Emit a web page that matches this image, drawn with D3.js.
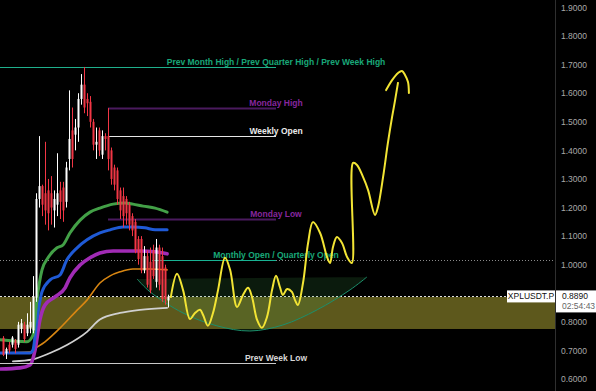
<!DOCTYPE html>
<html><head><meta charset="utf-8">
<script src="https://cdn.jsdelivr.net/npm/d3@7"></script>
<style>html,body{margin:0;padding:0;background:#000;overflow:hidden}svg{display:block}</style>
</head><body>
<svg id="c" width="596" height="391"></svg>
<script>
// ---- data ----
const candleOpen  = [0.744,0.69,0.72,0.72,0.735,0.72,0.775,0.79,0.76,0.78,0.77,0.885,1.23,1.275,1.25,1.26,1.25,1.19,1.21,1.26,1.27,1.22,1.37,1.47,1.455,1.48,1.58,1.63,1.58,1.57,1.50,1.42,1.47,1.385,1.45,1.45,1.40,1.34,1.33,1.26,1.24,1.23,1.21,1.17,1.15,1.09,1.09,0.98,1.03,1.01,1.05,0.94,1.06,1.03,0.99,0.875];
const candleHigh  = [0.75,0.71,0.73,0.75,0.74,0.80,0.81,0.80,0.83,0.87,0.96,1.25,1.45,1.28,1.43,1.30,1.31,1.26,1.39,1.29,1.29,1.36,1.61,1.55,1.51,1.60,1.667,1.692,1.60,1.59,1.51,1.48,1.48,1.47,1.46,1.548,1.41,1.35,1.34,1.27,1.27,1.24,1.22,1.18,1.16,1.10,1.10,1.065,1.05,1.06,1.07,1.09,1.07,1.06,1.00,0.895];
const candleLow   = [0.68,0.67,0.69,0.71,0.69,0.71,0.76,0.73,0.75,0.76,0.76,0.87,1.20,1.17,1.14,1.12,1.14,1.13,1.17,1.16,1.15,1.20,1.33,1.34,1.40,1.43,1.56,1.53,1.52,1.48,1.40,1.37,1.38,1.37,1.40,1.33,1.28,1.26,1.21,1.16,1.13,1.14,1.12,1.10,1.04,1.00,0.97,0.97,0.92,0.90,0.95,0.92,0.91,0.87,0.86,0.85];
const candleClose = [0.684,0.705,0.70,0.745,0.705,0.79,0.795,0.74,0.79,0.80,0.89,1.23,1.275,1.21,1.19,1.18,1.20,1.23,1.25,1.22,1.19,1.34,1.44,1.37,1.48,1.58,1.63,1.55,1.565,1.50,1.42,1.43,1.40,1.45,1.44,1.37,1.30,1.28,1.23,1.19,1.17,1.18,1.14,1.12,1.05,1.02,0.98,1.03,0.93,0.91,0.96,1.06,0.93,0.88,0.88,0.889];

// moving averages: [bar, value]
const maGreenBar  = [-1,8,10,11.3,13,15,18,20,22.3,25.7,29,32.3,36.7,40.7,43.3,46.7,50.7,54.7];
const maGreenVal  = [0.737,0.730,0.754,0.877,0.982,1.024,1.059,1.069,1.111,1.156,1.184,1.198,1.212,1.216,1.212,1.205,1.198,1.184];
const maBlueBar   = [-1,9,10,11.3,13,15.7,19,21.3,24.7,28,32.3,35.7,40,43.3,47.3,50.7,54.7];
const maBlueVal   = [0.691,0.691,0.702,0.807,0.905,0.947,0.964,1.017,1.059,1.087,1.111,1.122,1.132,1.132,1.129,1.122,1.122];
const maPurpleBar = [-1,5.7,9,10.7,12.3,14,17.3,20.7,22.3,25.7,29,32.3,36.7,40.7,45.7,50.7,54.7];
const maPurpleVal = [0.635,0.639,0.649,0.702,0.807,0.859,0.887,0.919,0.954,0.999,1.024,1.041,1.048,1.048,1.048,1.045,1.038];
const maOrangeBar = [-1,9,10,14,19,24.7,28,32.3,35.7,39,43.3,49,54.7];
const maOrangeVal = [0.691,0.694,0.702,0.73,0.778,0.841,0.876,0.936,0.961,0.975,0.985,0.985,0.982];
const maWhiteBar  = [3.3,10,15.7,21.3,28,32.3,39,45.7,54.7];
const maWhiteVal  = [0.662,0.669,0.691,0.719,0.765,0.808,0.831,0.842,0.849];

// key levels
const levelNames  = ["Prev Month High / Prev Quarter High / Prev Week High","Monday High","Weekly Open","Monday Low","Monthly Open / Quarterly Open","Prev Week Low"];
const levelPrices = [1.692,1.548,1.450,1.160,1.0165,0.656];
const levelStart  = [-1,35,35,35,49.7,-1];
const levelEnd    = [91,91,91,91,91,91];

// projection drawing (yellow)
const pathBar   = [55.9,58,60,62.3,64,65.7,66.7,68.3,70,71.7,74,75.7,78,80,81.7,83,84.7,86.3,88,89.7,91,92.3,93.3,94.7,96.3,97.3,98.3,100,101.7,103.3,105.7,108,109,110,111.3,113,114.7,116.3,116.7,118,120,121.7,124,125,126.7,128.3,129.7,130.7,131.7];
const pathPrice = [0.884,0.968,0.912,0.810,0.831,0.842,0.824,0.786,0.831,0.912,1.024,0.982,0.852,0.894,0.919,0.887,0.807,0.779,0.817,0.912,0.961,0.922,0.894,0.915,0.905,0.877,0.859,0.936,1.076,1.149,1.111,1.027,1.006,1.062,1.097,1.076,1.027,1.006,1.356,1.349,1.307,1.261,1.174,1.202,1.307,1.426,1.517,1.576,1.639];
const capBar    = [127.7,129.7,131.7,133,134,135,135.3];
const capPrice  = [1.611,1.646,1.671,1.678,1.664,1.639,1.601];

// bowl (rounded bottom)
const bowlBar   = [44.7,49,60,71.3,82.3,93.3,104.7,115.7,121.3];
const bowlPrice = [0.950,0.905,0.831,0.786,0.768,0.789,0.842,0.912,0.957];

// zone & price
const zoneTop = 0.887, zoneBottom = 0.775;
const dottedLevel = 1.0165;
const lastPrice = 0.889;
const symbol = "XPLUSDT.P";
const countdown = "02:54:43";
const yTicks = [0.6,0.7,0.8,1.0,1.1,1.2,1.3,1.4,1.5,1.6,1.7,1.8,1.9];

// ---- drawing ----
const W = 596, H = 391, plotRight = 555;
const svg = d3.select("#c");
const x = d3.scaleLinear().domain([-1, 184]).range([0, plotRight]);
const y = d3.scaleLinear().domain([0.6, 1.9]).range([379, 7.5]);
const font = "'Liberation Sans', Arial, sans-serif";

svg.append("rect").attr("width", W).attr("height", H).attr("fill", "#000");

// zone
svg.append("rect").attr("x", 0).attr("width", plotRight)
  .attr("y", y(zoneTop)).attr("height", y(zoneBottom) - y(zoneTop)).attr("fill", "#5d581c");

// dotted lines
svg.append("line").attr("x1", 0).attr("x2", plotRight).attr("y1", Math.round(y(dottedLevel)) + 0.5).attr("y2", Math.round(y(dottedLevel)) + 0.5)
  .attr("stroke", "#8a8a8a").attr("stroke-dasharray", "1,2");
svg.append("line").attr("x1", 0).attr("x2", 507).attr("y1", Math.round(y(lastPrice)) + 0.5).attr("y2", Math.round(y(lastPrice)) + 0.5)
  .attr("stroke", "#e0e0e0").attr("stroke-dasharray", "2,2");

// bowl
const bowlPts = bowlBar.map((b, i) => [x(b), y(bowlPrice[i])]);
const arcGen = d3.line().curve(d3.curveCatmullRom.alpha(0.5));
svg.append("path").attr("d", arcGen(bowlPts) + "Z").attr("fill", "rgba(70,170,80,0.16)").attr("stroke", "none");
svg.append("path").attr("d", arcGen(bowlPts)).attr("fill", "none").attr("stroke", "#1c8f6c").attr("stroke-width", 1);

// moving averages
const maLine = d3.line().curve(d3.curveMonotoneX);
function drawMA(bars, vals, color, w) {
  svg.append("path").attr("d", maLine(bars.map((b, i) => [x(b), y(vals[i])])))
    .attr("fill", "none").attr("stroke", color).attr("stroke-width", w).attr("stroke-linecap", "round");
}
drawMA(maWhiteBar, maWhiteVal, "#d0d0d0", 1.8);
drawMA(maOrangeBar, maOrangeVal, "#d88612", 1.6);
drawMA(maPurpleBar, maPurpleVal, "#a12bb5", 3.6);
drawMA(maBlueBar, maBlueVal, "#1f5ad6", 3);
drawMA(maGreenBar, maGreenVal, "#43a047", 3);

// levels
const levelLine = ["#1fb08c", "#4a1a5e", "#e6e6e6", "#4a1a5e", "#19b394", "#c8c8c8"];
const levelText = ["#19a878", "#86269e", "#ececec", "#86269e", "#19a878", "#d6d6d6"];
levelPrices.forEach((p, i) => {
  const yy = Math.round(y(p)) + 0.5;
  svg.append("line").attr("x1", x(levelStart[i])).attr("x2", x(levelEnd[i]))
    .attr("y1", yy).attr("y2", yy).attr("stroke", levelLine[i]).attr("stroke-width", (i === 1 || i === 3) ? 2 : 1);
  svg.append("text").attr("x", x(levelEnd[i])).attr("y", yy - 3)
    .attr("text-anchor", "middle").attr("font-family", font).attr("font-size", 8.5).attr("font-weight", "bold")
    .attr("fill", levelText[i]).text(levelNames[i]);
});

// candles
const candleG = svg.append("g");
candleOpen.forEach((o, i) => {
  const c = candleClose[i], up = c >= o;
  const col = up ? "#ffffff" : "#f23645";
  const cx = Math.round(x(i));
  candleG.append("line").attr("x1", cx + 0.5).attr("x2", cx + 0.5)
    .attr("y1", y(candleHigh[i])).attr("y2", y(candleLow[i])).attr("stroke", col).attr("stroke-width", 1);
  const top = y(Math.max(o, c)), bot = y(Math.min(o, c));
  candleG.append("rect").attr("x", cx - 0.5).attr("width", 2)
    .attr("y", top).attr("height", Math.max(1, bot - top)).attr("fill", col);
});

// yellow projection
const yl = d3.line().curve(d3.curveCatmullRom.alpha(0.5));
svg.append("path").attr("d", yl(pathBar.map((b, i) => [x(b), y(pathPrice[i])])))
  .attr("fill", "none").attr("stroke", "#f2e434").attr("stroke-width", 2).attr("stroke-linejoin", "round");
svg.append("path").attr("d", yl(capBar.map((b, i) => [x(b), y(capPrice[i])])))
  .attr("fill", "none").attr("stroke", "#f2e434").attr("stroke-width", 2).attr("stroke-linecap", "round");

// axis
svg.append("rect").attr("x", plotRight + 0.5).attr("y", 0).attr("width", W - plotRight).attr("height", H).attr("fill", "#000");
svg.append("line").attr("x1", plotRight + 0.5).attr("x2", plotRight + 0.5).attr("y1", 0).attr("y2", H).attr("stroke", "#2f2f2f");
const axis = d3.axisRight(y).tickValues(yTicks).tickFormat(d3.format(".4f")).tickSize(0).tickPadding(6);
const ag = svg.append("g").attr("transform", `translate(${plotRight},0)`).call(axis);
ag.select(".domain").remove();
ag.selectAll("text").attr("font-family", font).attr("font-size", 8.5).attr("fill", "#a8a8a8");

// price label
const py = y(lastPrice);
svg.append("rect").attr("x", plotRight + 1).attr("y", py - 6).attr("width", W - plotRight - 1).attr("height", 22).attr("fill", "#ffffff");
svg.append("text").attr("x", 562).attr("y", py + 3).attr("font-family", font).attr("font-size", 8.5).attr("fill", "#111").text(d3.format(".4f")(lastPrice));
svg.append("text").attr("x", 562).attr("y", py + 13).attr("font-family", font).attr("font-size", 8.5).attr("fill", "#666").text(countdown);
// symbol label
svg.append("rect").attr("x", 507).attr("y", py - 6).attr("width", 48).attr("height", 12).attr("fill", "#ffffff");
svg.append("text").attr("x", 531).attr("y", py + 3).attr("text-anchor", "middle").attr("font-family", font).attr("font-size", 8.5).attr("fill", "#111").text(symbol);
</script>
</body></html>
